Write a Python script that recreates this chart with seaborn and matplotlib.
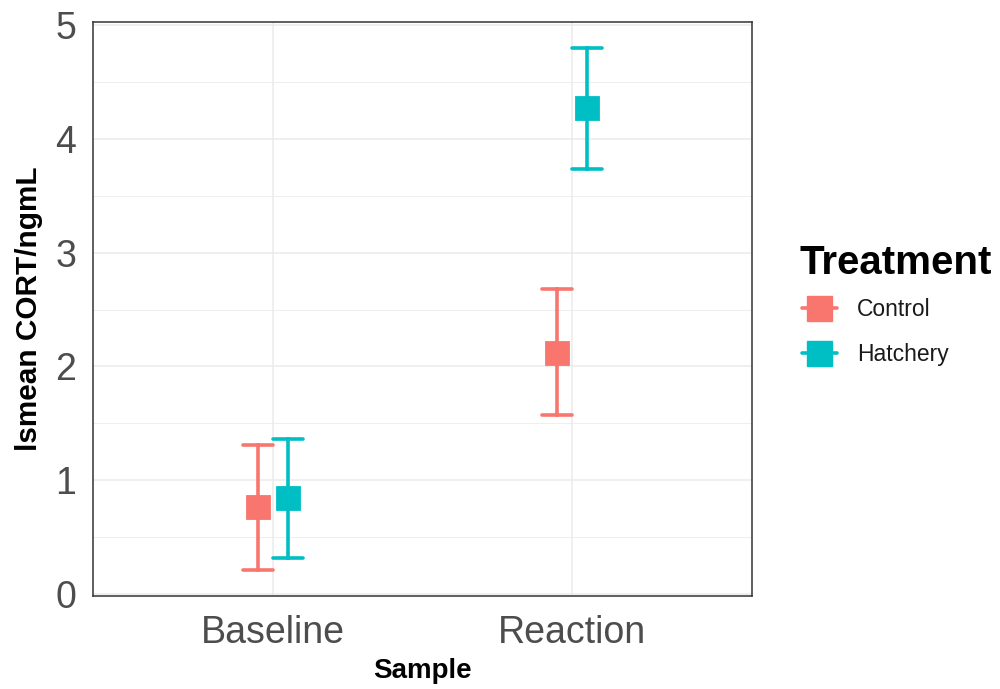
import matplotlib
matplotlib.use("Agg")
import matplotlib.pyplot as plt
from matplotlib.lines import Line2D
from matplotlib.ticker import MultipleLocator
import seaborn as sns
import pandas as pd

samples = ["Baseline", "Baseline", "Reaction", "Reaction"]
treatments = ["Control", "Hatchery", "Control", "Hatchery"]
means = [0.76, 0.84, 2.12, 4.27]
lowers = [0.21, 0.31, 1.57, 3.74]
uppers = [1.31, 1.36, 2.68, 4.80]
treatment_order = ["Control", "Hatchery"]
sample_order = ["Baseline", "Reaction"]
colors = ["#F8766D", "#00BFC4"]
y_ticks = [0, 1, 2, 3, 4, 5]

rows = []
for s, t, m, lo, hi in zip(samples, treatments, means, lowers, uppers):
    for v in (lo, m, hi):
        rows.append({"Sample": s, "Treatment": t, "value": v})
df = pd.DataFrame(rows)

sns.set_style("white")
plt.rcParams["font.family"] = ["Liberation Sans", "DejaVu Sans"]

fig = plt.figure(figsize=(10, 6.89), dpi=100)
ax = fig.add_axes([0.093, 0.135, 0.659, 0.833])

sns.pointplot(data=df, x="Sample", y="value", hue="Treatment",
              order=sample_order, hue_order=treatment_order,
              palette=colors, estimator="median", errorbar=("pi", 100),
              dodge=0.1, capsize=0.1, linestyle="none", marker="s",
              markersize=16, err_kws={"linewidth": 2.6}, ax=ax)

ax.set_xlim(-0.6, 1.6)
ax.set_ylim(-0.02, 5.03)
ax.set_yticks(y_ticks)
ax.yaxis.set_minor_locator(MultipleLocator(0.5))
ax.set_axisbelow(True)
ax.grid(True, which="major", color="#EBEBEB", linewidth=1.1)
ax.grid(True, which="minor", axis="y", color="#EBEBEB", linewidth=0.6)
for sp in ax.spines.values():
    sp.set_color("#333333")
    sp.set_linewidth(1.1)
ax.tick_params(axis="both", which="major", length=4, width=1, color="#333333",
               labelsize=27, labelcolor="#4D4D4D", direction="out")
ax.tick_params(axis="x", which="major", pad=10)
ax.tick_params(axis="y", which="major", pad=8)
ax.tick_params(axis="y", which="minor", length=0)
ax.set_xlabel("Sample", fontsize=20, fontweight="bold", color="black", labelpad=5)
ax.set_ylabel("lsmean CORT/ngmL", fontsize=21.4, fontweight="bold", color="black", labelpad=9)

if ax.get_legend() is not None:
    ax.get_legend().remove()

fig.text(0.800, 1 - 263 / 689, "Treatment", fontsize=29, fontweight="bold",
         color="black", ha="left", va="center")
handles = [Line2D([0], [0], color=c, marker="s", markersize=18, linewidth=2.6)
           for c in colors]
fig.legend(handles, treatment_order, loc="center left",
           bbox_to_anchor=(0.802, 1 - 332 / 689), frameon=False, fontsize=16.5,
           handlelength=1.52, handletextpad=0.87, labelspacing=0.95,
           borderpad=0, borderaxespad=0, labelcolor="#1a1a1a")

fig.savefig("out.png", dpi=100)
